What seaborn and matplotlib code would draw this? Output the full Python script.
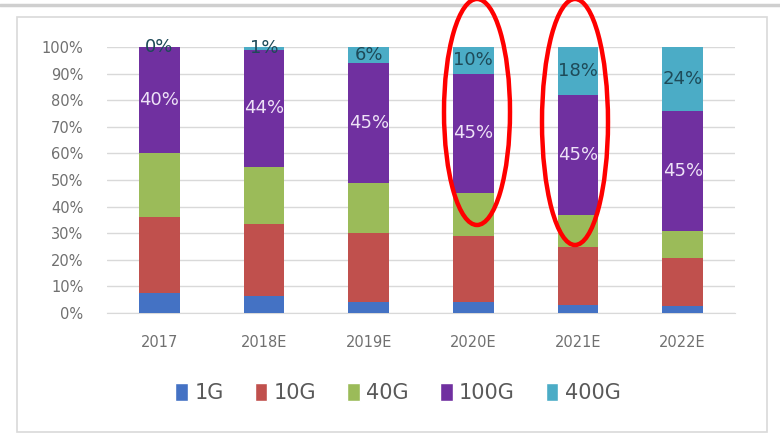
import seaborn as sns
import matplotlib.pyplot as plt
import pandas as pd
import numpy as np
from matplotlib.patches import Ellipse, Rectangle, Patch
from matplotlib.lines import Line2D

years = ['2017', '2018E', '2019E', '2020E', '2021E', '2022E']
speeds = ['1G', '10G', '40G', '100G', '400G']
share_1g = [7.5, 6.5, 4.3, 4, 3, 2.5]
share_10g = [28.5, 27, 25.7, 25, 22, 18]
share_40g = [24, 21.5, 19, 16, 12, 10.5]
share_100g = [40, 44, 45, 45, 45, 45]
share_400g = [0, 1, 6, 10, 18, 24]
colors = ['#4472C4', '#C0504D', '#9BBB59', '#7030A0', '#4BACC6']

df = pd.DataFrame({'Rok': years, '1G': share_1g, '10G': share_10g, '40G': share_40g,
                   '100G': share_100g, '400G': share_400g})

sns.set_style('white')
plt.rcParams['font.family'] = ['DejaVu Sans']

fig = plt.figure(figsize=(7.8, 4.44), dpi=100)
ax = fig.add_axes([107 / 780, 1 - 313 / 444, 628 / 780, 266 / 444])

bottom = np.zeros(len(years))
for s, c in zip(speeds, colors):
    sns.barplot(data=df, x='Rok', y=s, color=c, width=0.39, bottom=bottom,
                saturation=1, linewidth=0, ax=ax, zorder=3)
    vals = df[s].to_numpy()
    if s in ('100G', '400G'):
        txt_col = '#EEE2F7' if s == '100G' else '#1E4A58'
        for i, v in enumerate(vals):
            ax.text(i, bottom[i] + v / 2, f'{v:.0f}%', ha='center', va='center',
                    fontsize=13, color=txt_col, zorder=5, clip_on=False)
    bottom = bottom + vals

ax.set_xlim(-0.5, len(years) - 0.5)
ax.set_ylim(0, 100)
ax.set_yticks(range(0, 101, 10))
ax.set_yticklabels([f'{t}%' for t in range(0, 101, 10)])
ax.yaxis.grid(True, color='#D9D9D9', lw=1, zorder=0)
ax.set_axisbelow(True)
for sp in ['top', 'right', 'left']:
    ax.spines[sp].set_visible(False)
ax.spines['bottom'].set_color('#D9D9D9')
ax.tick_params(axis='y', length=0, pad=17, labelsize=10.5, labelcolor='#707070')
ax.tick_params(axis='x', length=0, pad=16, labelsize=10.5, labelcolor='#707070')
ax.set_xlabel('')
ax.set_ylabel('')

handles = [Patch(facecolor=c, label=s) for s, c in zip(speeds, colors)]
fig.legend(handles=handles, loc='center', bbox_to_anchor=(398 / 780, 1 - 393 / 444),
           ncol=5, frameon=False, fontsize=15, handlelength=0.6, handleheight=1.0,
           handletextpad=0.3, columnspacing=1.5, labelcolor='#595959')

# chart frame and the top border of the screenshot
fig.add_artist(Rectangle((17 / 780, 1 - 432 / 444), 750 / 780, 415 / 444,
                         transform=fig.transFigure, fill=False, ec='#D9D9D9', lw=1.2))
fig.add_artist(Line2D([0, 1], [1 - 5 / 444, 1 - 5 / 444], transform=fig.transFigure,
                      color='#CFCFCF', lw=2.5))

# red highlight ellipses
fig.add_artist(Ellipse((477 / 780, 1 - 112 / 444), 66 / 780, 226 / 444,
                       transform=fig.transFigure, fill=False, ec='#FF0000', lw=3.2, zorder=10))
fig.add_artist(Ellipse((575 / 780, 1 - 122 / 444), 66 / 780, 246 / 444,
                       transform=fig.transFigure, fill=False, ec='#FF0000', lw=3.2, zorder=10))

fig.savefig('out.png', dpi=100)
